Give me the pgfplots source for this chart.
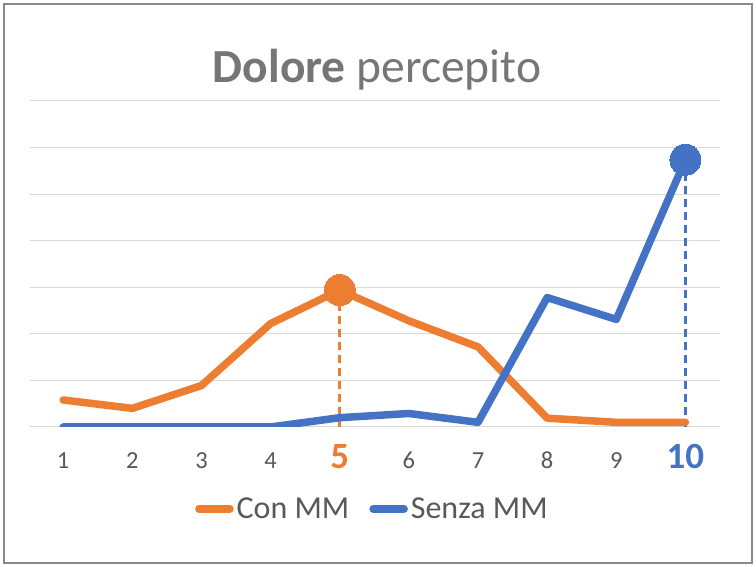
\documentclass[border=0pt]{standalone}
\usepackage{pgfplots}
\pgfplotsset{compat=1.18}
\usepackage{fontspec}
\setmainfont{Carlito}
\definecolor{xlorange}{HTML}{ED7D31}
\definecolor{xlblue}{HTML}{4472C4}
\definecolor{gridgray}{HTML}{D9D9D9}
\definecolor{txtgray}{HTML}{595959}
\definecolor{titlegray}{HTML}{767676}
\definecolor{bordergray}{HTML}{8A8A8A}
\begin{document}
\begin{tikzpicture}[x=1bp,y=1bp]
\useasboundingbox (0,0) rectangle (756,567);
\fill[white] (0,0) rectangle (756,567);
\draw[bordergray, line width=1.3bp] (4,4) rectangle (752,563);
\node[anchor=base, text=titlegray, inner sep=0pt] at (377,484) {\fontsize{47.5bp}{56bp}\selectfont\textbf{Dolore} percepito};
\begin{axis}[
  at={(30bp,140bp)}, anchor=south west,
  scale only axis, width=690bp, height=326bp,
  xmin=0.52, xmax=10.5, ymin=0, ymax=7,
  ytick={0,1,...,7}, yticklabels={},
  xtick={1,...,10},
  xticklabels={1,2,3,4,{\fontsize{37bp}{40bp}\selectfont\bfseries\color{xlorange}5},6,7,8,9,{\fontsize{37bp}{40bp}\selectfont\bfseries\color{xlblue}10}},
  xticklabel style={anchor=base, yshift=-42bp, text=txtgray, font=\fontsize{24.5bp}{28bp}\selectfont, inner sep=0pt},
  major tick length=0pt,
  axis line style={draw=none},
  ymajorgrids, grid style={gridgray, line width=1bp},
  legend columns=2,
  legend style={at={(0.497,-0.2515)}, anchor=center, draw=none, fill=none,
    font=\fontsize{32bp}{36bp}\selectfont, text=txtgray,
    /tikz/every even column/.append style={column sep=17bp},
    inner sep=0pt, nodes={inner sep=3bp}},
  legend image code/.code={\draw[#1, line cap=round] (0bp,0bp) -- (31bp,0bp);},
]
% dashed droplines
\addplot[forget plot, xlorange, line width=3bp, dash pattern=on 8bp off 5bp] coordinates {(5,2.94) (5,0)};
\addplot[forget plot, xlblue, line width=3bp, dash pattern=on 8bp off 5bp] coordinates {(10,5.74) (10,0)};
% series
\addplot[xlorange, line width=7.5bp, line join=round, line cap=round] coordinates {
(1,0.58) (2,0.40) (3,0.89) (4,2.22) (5,2.94) (6,2.28) (7,1.72) (8,0.19) (9,0.10) (10,0.10)};
\addlegendentry{Con MM}
\addplot[xlblue, line width=7.5bp, line join=round, line cap=round] coordinates {
(1,0) (2,0) (3,0) (4,0) (5,0.20) (6,0.29) (7,0.10) (8,2.78) (9,2.31) (10,5.74)};
\addlegendentry{Senza MM}
% highlighted markers
\addplot[forget plot, xlorange, only marks, mark=*, mark size=15.5bp, mark options={fill=xlorange, draw=xlorange, line width=0pt}] coordinates {(5,2.94)};
\addplot[forget plot, xlblue, only marks, mark=*, mark size=15.5bp, mark options={fill=xlblue, draw=xlblue, line width=0pt}] coordinates {(10,5.74)};
\end{axis}
\end{tikzpicture}
\end{document}
